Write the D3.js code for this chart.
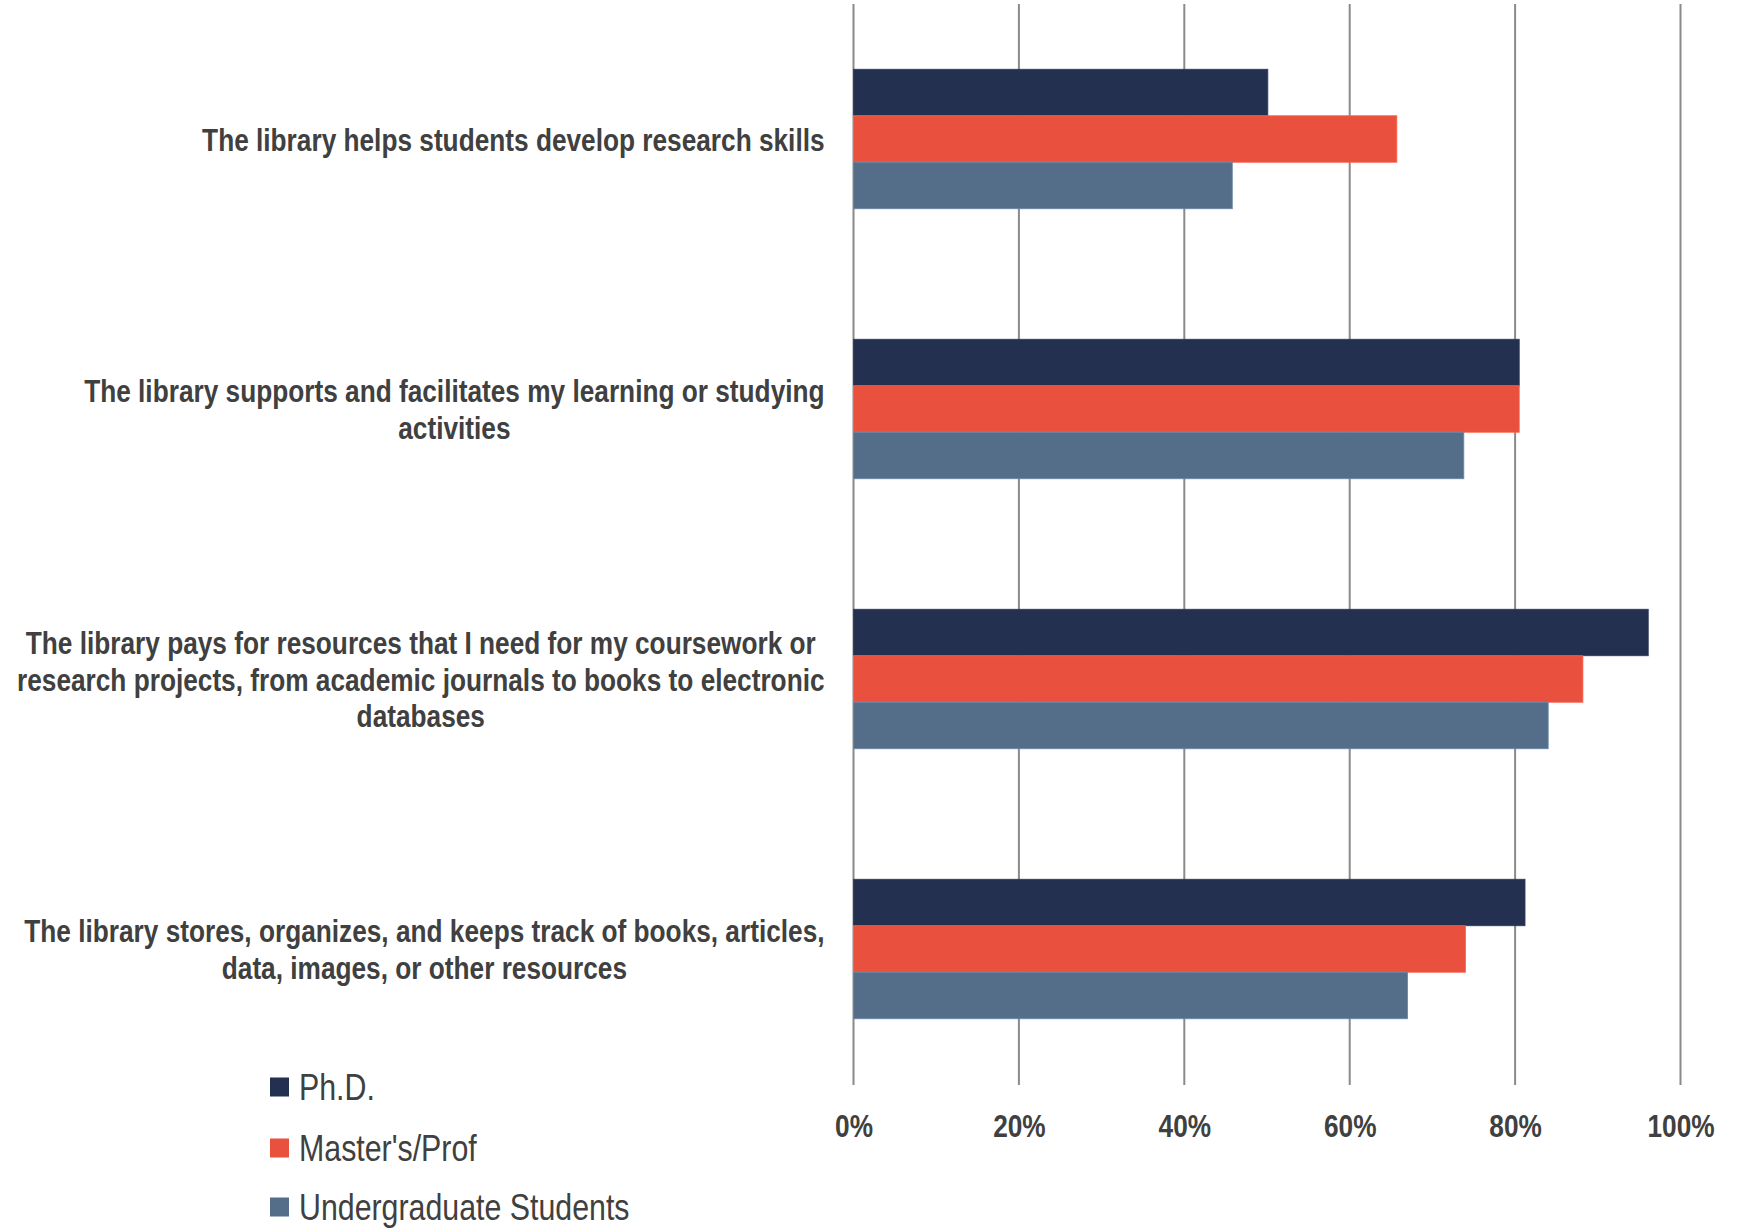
<!DOCTYPE html>
<html>
<head>
<meta charset="utf-8">
<script src="https://cdn.jsdelivr.net/npm/d3@7"></script>
<style>
  html, body { margin: 0; padding: 0; background: #ffffff; }
  svg { display: block; }
</style>
</head>
<body>
<svg id="chart" width="1745" height="1229"></svg>
<script>
// ---------- data ----------
const categories = [
  "The library helps students develop research skills",
  "The library supports and facilitates my learning or studying activities",
  "The library pays for resources that I need for my coursework or research projects, from academic journals to books to electronic databases",
  "The library stores, organizes, and keeps track of books, articles, data, images, or other resources"
];
const categoryLines = [
  ["The library helps students develop research skills"],
  ["The library supports and facilitates my learning or studying", "activities"],
  ["The library pays for resources that I need for my coursework or", "research projects, from academic journals to books to electronic", "databases"],
  ["The library stores, organizes, and keeps track of books, articles,", "data, images, or other resources"]
];
const seriesNames = ["Ph.D.", "Master's/Prof", "Undergraduate Students"];
const phdValues = [50.1, 80.5, 96.1, 81.2];
const mastersValues = [65.7, 80.5, 88.2, 74.0];
const undergradValues = [45.8, 73.8, 84.0, 67.0];
const tickValues = [0, 20, 40, 60, 80, 100];
const seriesColors = ["#243050", "#E9503E", "#546E8A"];

// ---------- setup ----------
const svg = d3.select("#chart");
const W = 1745, H = 1229;

// font detection: use a narrow face if present, else condense Liberation Sans
function measure(family, weight) {
  const t = svg.append("text")
    .attr("x", -9999).attr("y", -9999)
    .style("font-family", family).style("font-size", "100px").style("font-weight", weight)
    .text("abcdefghijklmnop");
  const w = t.node().getComputedTextLength();
  t.remove();
  return w;
}
let fontFamily = "'Liberation Sans', Arial, sans-serif";
let sx = 0.82;
const wNarrow = measure("'Liberation Sans Narrow'", "bold");
const wReg = measure("'Liberation Sans'", "bold");
if (wNarrow / wReg < 0.9) {
  fontFamily = "'Liberation Sans Narrow', 'Liberation Sans', sans-serif";
  sx = 1;
}
const textColor = "#404040";

const x = d3.scaleLinear().domain([0, 100]).range([853.5, 1680.5]);
const plotTop = 4, plotBottom = 1084;
const y = d3.scaleBand().domain(d3.range(categories.length))
  .range([plotTop, plotBottom]).paddingInner(0.4833).paddingOuter(0.4833 / 2);
const ySub = d3.scaleBand().domain(d3.range(seriesNames.length)).range([0, y.bandwidth()]).padding(0);

const valuesBySeries = [phdValues, mastersValues, undergradValues];

// ---------- gridlines ----------
svg.append("g").selectAll("line").data(tickValues).join("line")
  .attr("x1", d => x(d)).attr("x2", d => x(d))
  .attr("y1", plotTop).attr("y2", plotBottom + 1)
  .attr("stroke", "#8a8a8a").attr("stroke-width", 2);

// ---------- bars ----------
const groups = svg.append("g").selectAll("g").data(categories).join("g")
  .attr("transform", (d, i) => `translate(0,${y(i)})`);
groups.selectAll("rect")
  .data((d, i) => valuesBySeries.map((vals, s) => ({ s, v: vals[i] })))
  .join("rect")
  .attr("x", x(0))
  .attr("y", d => ySub(d.s))
  .attr("width", d => x(d.v) - x(0))
  .attr("height", ySub.bandwidth())
  .attr("fill", d => seriesColors[d.s])
  .attr("stroke", d => d3.color(seriesColors[d.s]).brighter(0.6))
  .attr("stroke-width", 0.8);

// ---------- x axis ----------
const xAxis = d3.axisBottom(x).tickValues(tickValues).tickSize(0).tickPadding(0)
  .tickFormat(d => d + "%");
const axisG = svg.append("g").attr("transform", `translate(0,1136.5)`).call(xAxis);
axisG.select(".domain").remove();
axisG.selectAll("text")
  .attr("y", 0).attr("dy", 0)
  .attr("transform", `scale(${sx},1)`)
  .style("font-family", fontFamily).style("font-size", "32px").style("font-weight", "bold")
  .attr("fill", textColor);

// ---------- category labels ----------
const labelRight = 824.7;
const lineH = 36.7;
const labelG = svg.append("g");
categoryLines.forEach((lines, i) => {
  const cy = y(i) + y.bandwidth() / 2;
  const g = labelG.append("g");
  const texts = lines.map((ln, k) => {
    return g.append("text")
      .style("font-family", fontFamily).style("font-size", "32px").style("font-weight", "bold")
      .attr("fill", textColor).attr("text-anchor", "middle")
      .text(ln);
  });
  const maxW = d3.max(texts, t => t.node().getComputedTextLength()) * sx;
  const cx = labelRight - maxW / 2;
  const n = lines.length;
  texts.forEach((t, k) => {
    const baseline = cy + (k - (n - 1) / 2) * lineH + 11.5;
    t.attr("x", 0).attr("y", 0)
      .attr("transform", `translate(${cx},${baseline}) scale(${sx},1)`);
  });
});

// ---------- legend ----------
const legendY = [1087, 1148, 1207];
const legend = svg.append("g").selectAll("g").data(seriesNames).join("g")
  .attr("transform", (d, i) => `translate(270,${legendY[i]})`);
legend.append("rect")
  .attr("x", 0).attr("y", -9.5).attr("width", 19).attr("height", 19)
  .attr("fill", (d, i) => seriesColors[i]);
legend.append("text")
  .attr("x", 0).attr("y", 0)
  .attr("transform", `translate(29,13) scale(${sx},1)`)
  .style("font-family", fontFamily).style("font-size", "37px")
  .attr("fill", textColor)
  .text(d => d);
</script>
</body>
</html>
